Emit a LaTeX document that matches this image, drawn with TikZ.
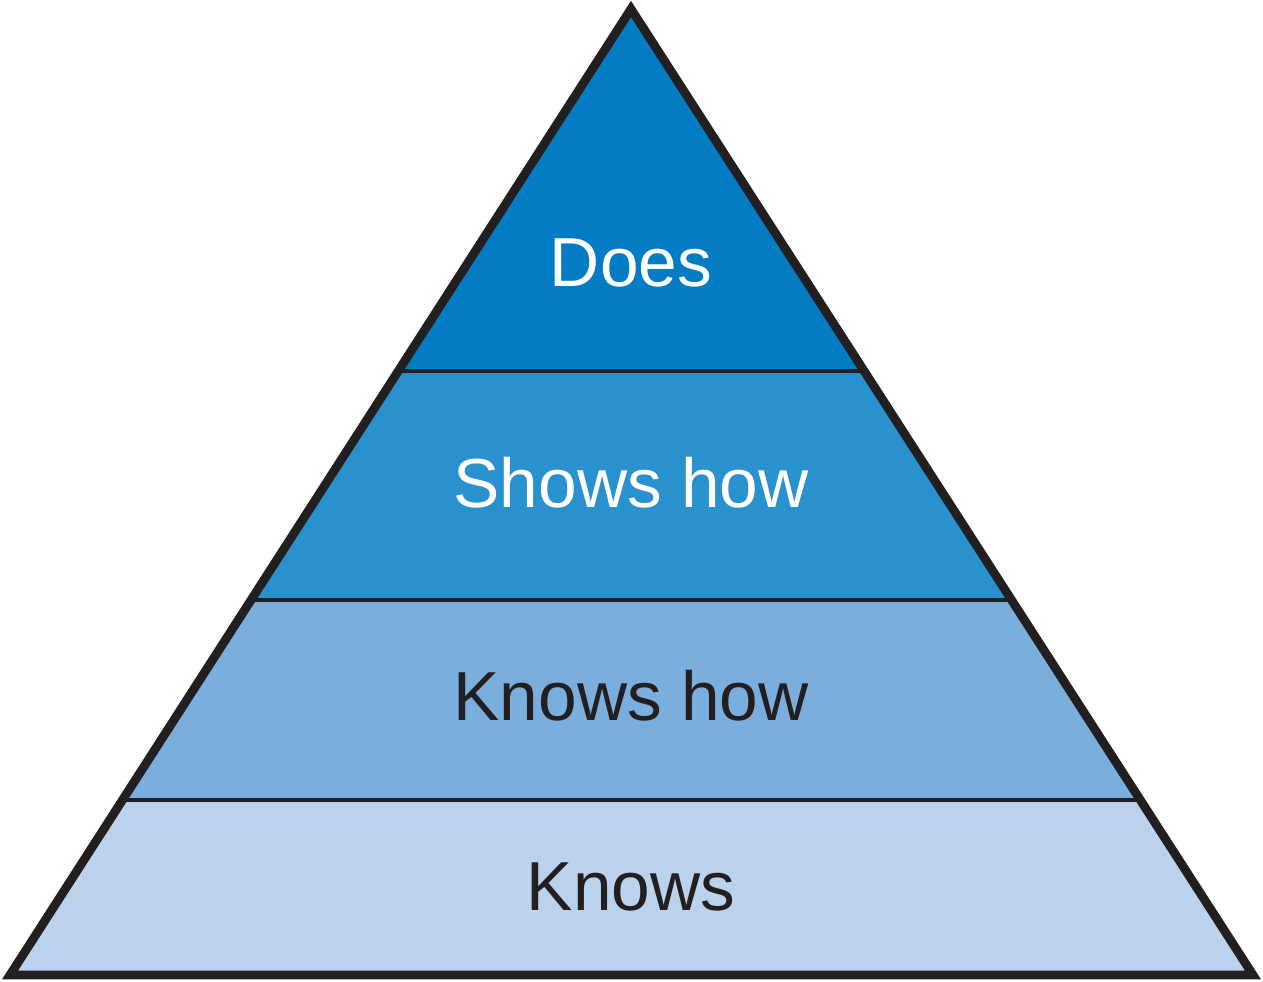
\documentclass[tikz,border=0pt]{standalone}
\usepackage{fontspec}
\setmainfont{Liberation Sans}
\usetikzlibrary{calc}
\definecolor{doesblue}{HTML}{037CC3}
\definecolor{showsblue}{HTML}{2A91CF}
\definecolor{knowshowblue}{HTML}{7AAEDC}
\definecolor{knowsblue}{HTML}{BBD2ED}
\definecolor{inkline}{HTML}{231F20}
\tikzset{
outline/.style={draw=inkline, line width=5pt, line join=miter},
divider/.style={draw=inkline, line width=2pt},
tier/.style={font=\fontsize{39.5}{47}\selectfont, anchor=base, inner sep=0pt},
lighttier/.style={tier, text=white},
darktier/.style={tier, text=inkline}
}
\begin{document}
\begin{tikzpicture}
    \useasboundingbox (0,0) rectangle (25.26,19.62);
    \coordinate (apex) at (12.62,19.44);
    \coordinate (bl) at (0.2,0.12);
    \coordinate (br) at (25.06,0.12);
    \coordinate (l1) at ($(apex)!0.3745!(bl)$);
    \coordinate (r1) at ($(apex)!0.3745!(br)$);
    \coordinate (l2) at ($(apex)!0.6117!(bl)$);
    \coordinate (r2) at ($(apex)!0.6117!(br)$);
    \coordinate (l3) at ($(apex)!0.8188!(bl)$);
    \coordinate (r3) at ($(apex)!0.8188!(br)$);
    % layers
    \fill [doesblue] (apex) -- (r1) -- (l1) -- cycle;
    \fill [showsblue] (l1) -- (r1) -- (r2) -- (l2) -- cycle;
    \fill [knowshowblue] (l2) -- (r2) -- (r3) -- (l3) -- cycle;
    \fill [knowsblue] (l3) -- (r3) -- (br) -- (bl) -- cycle;
    \path [divider] (l1) -- (r1);
    \path [divider] (l2) -- (r2);
    \path [divider] (l3) -- (r3);
    \path [outline] (apex) -- (br) -- (bl) -- cycle;
    \node [lighttier] (does) at (12.62,13.88) {Does};
    \node [lighttier] (shows) at (12.62,9.46) {Shows how};
    \node [darktier] (knowshow) at (12.62,5.22) {Knows how};
    \node [darktier] (knows) at (12.62,1.42) {Knows};
\end{tikzpicture}
\end{document}
